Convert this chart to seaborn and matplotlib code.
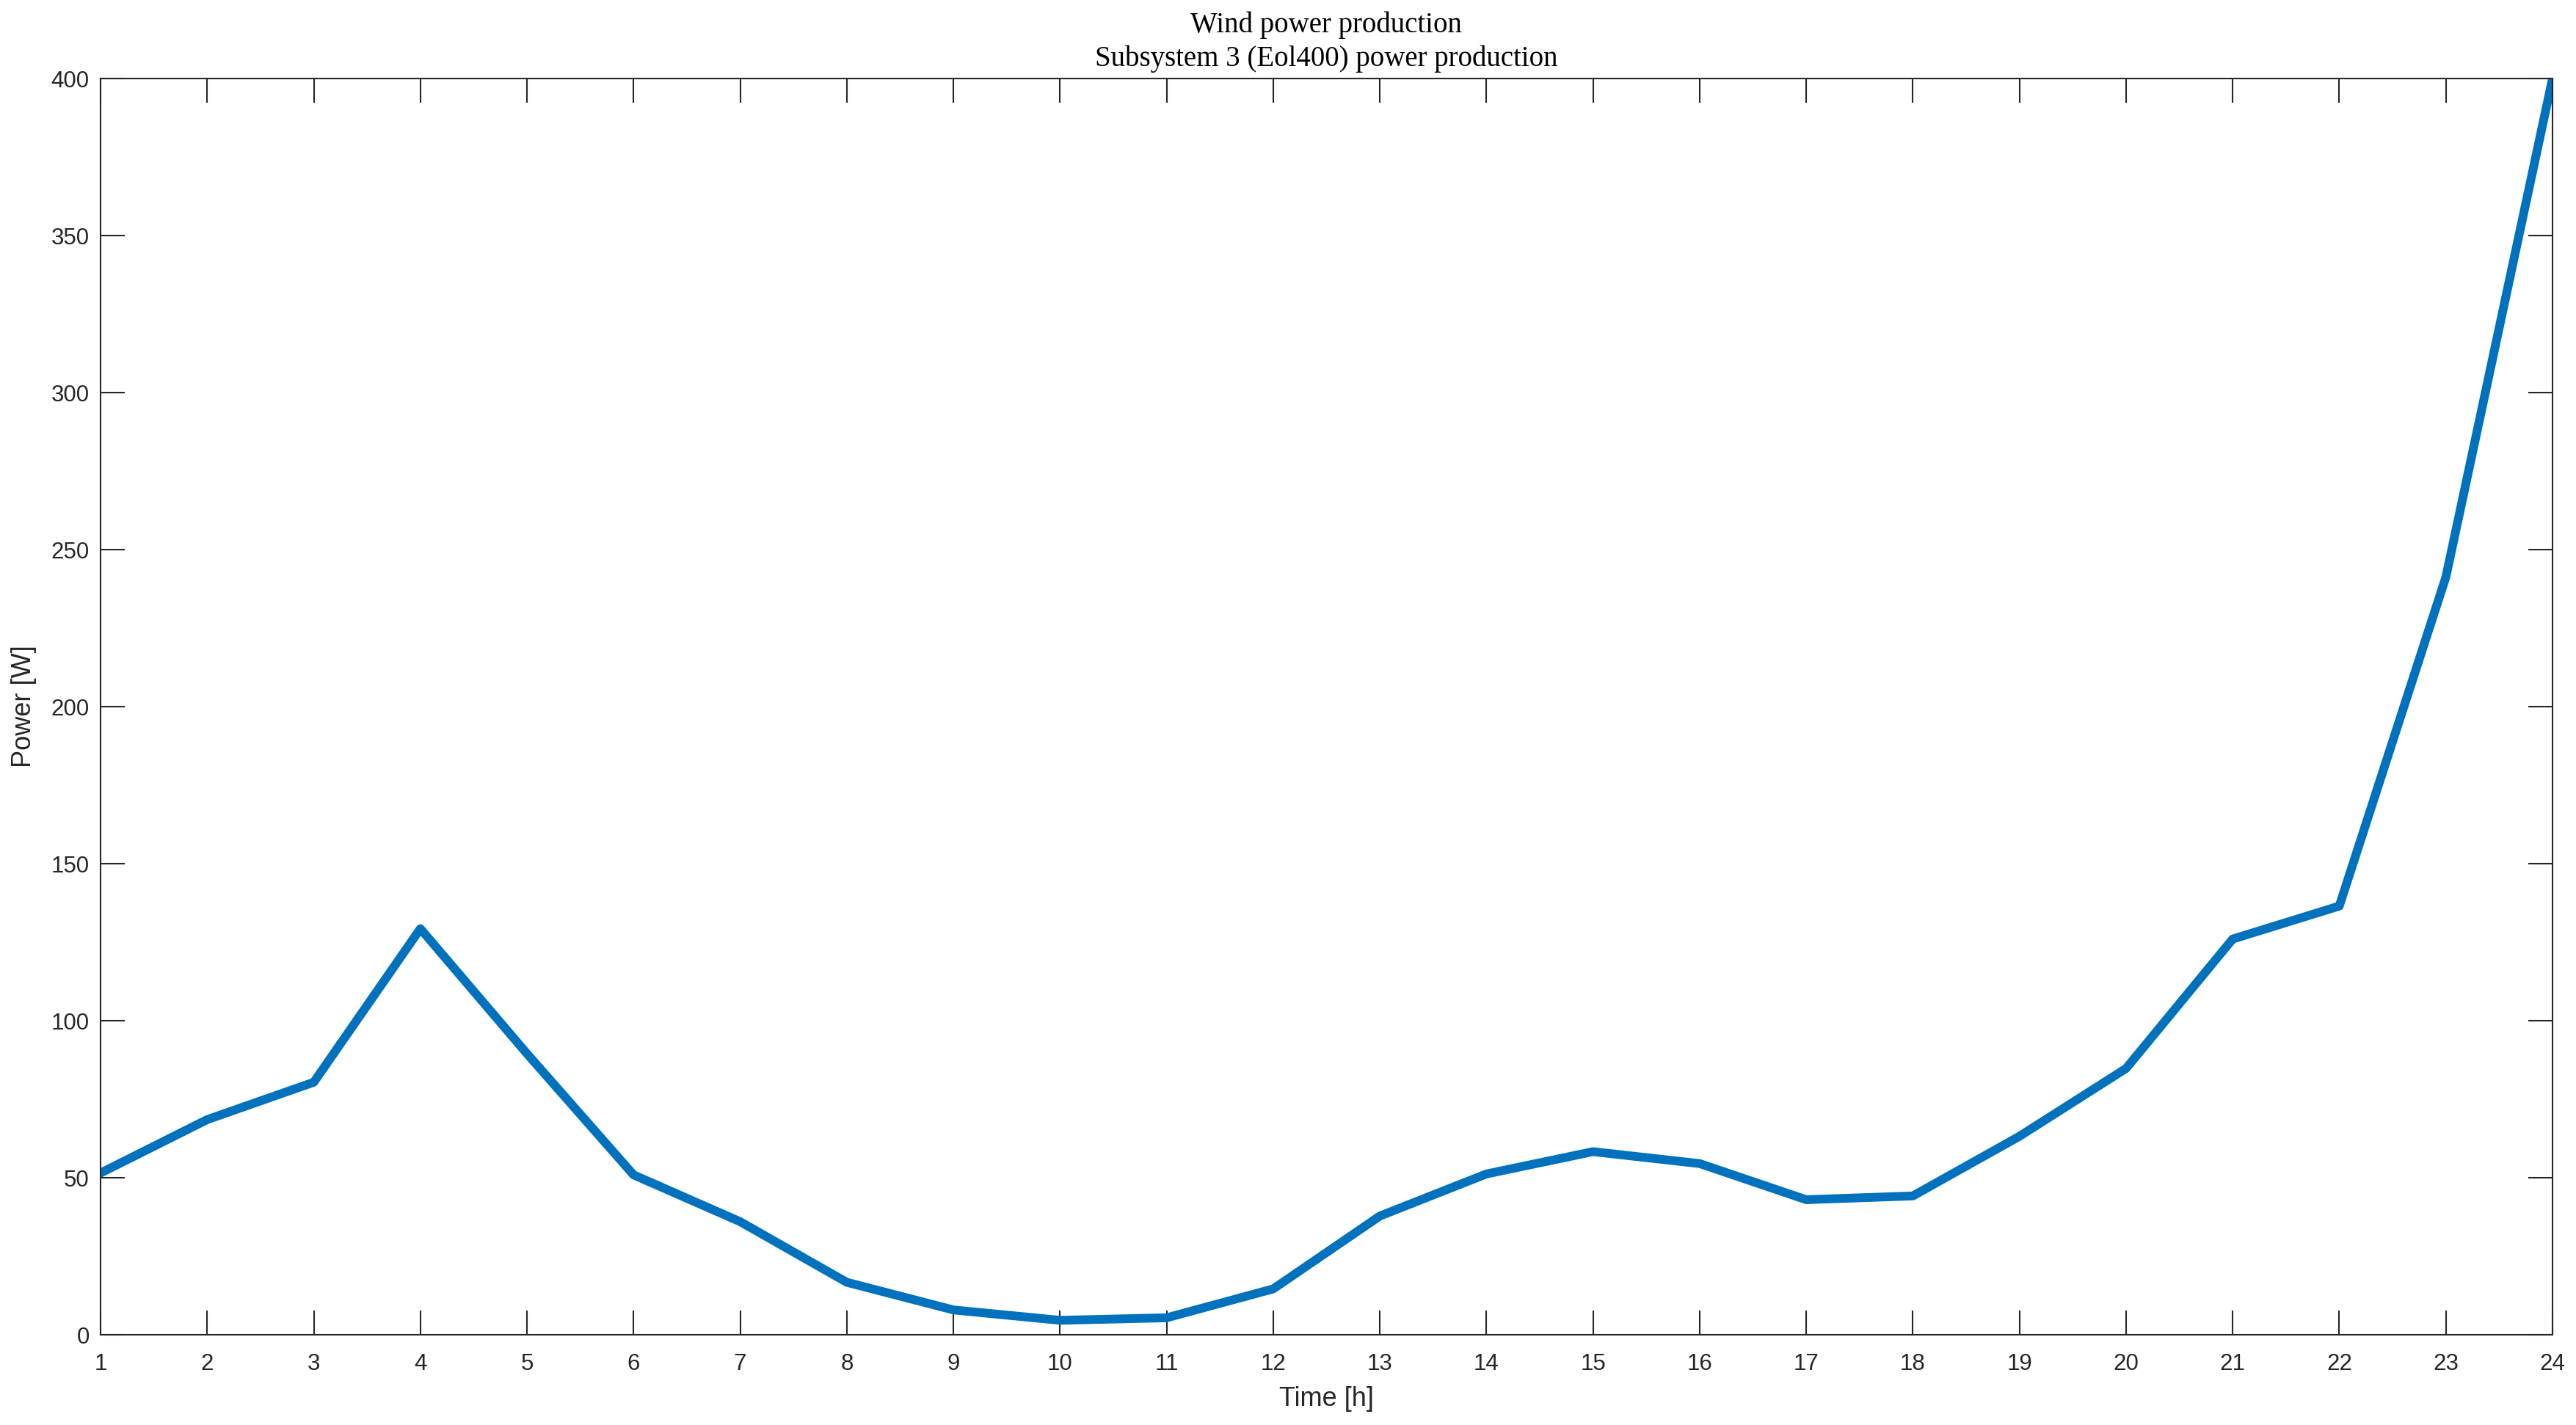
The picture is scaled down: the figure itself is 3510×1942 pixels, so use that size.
import numpy as np
import pandas as pd
import matplotlib
matplotlib.use("Agg")
import matplotlib.pyplot as plt
import seaborn as sns

# valeurs
hours = list(range(1, 25))
power = [51.5, 68.5, 80.4, 129.3, 89.5, 50.9, 36.0, 16.7, 7.9, 4.6, 5.4, 14.6,
         37.8, 51.2, 58.3, 54.5, 43.0, 44.2, 63.2, 84.8, 126.0, 136.5, 241.3, 400.0]
yticks = [0, 50, 100, 150, 200, 250, 300, 350, 400]

title_txt = "Wind power production\nSubsystem 3 (Eol400) power production"
xlabel_txt = "Time [h]"
ylabel_txt = "Power [W]"

df = pd.DataFrame({"hour": hours, "power": power})

sns.set_style("ticks")
plt.rcParams["font.family"] = ["Liberation Sans", "DejaVu Sans"]
grey = "#262626"

fig = plt.figure(figsize=(35.1, 19.42), dpi=100)
ax = fig.add_axes([137 / 3510, 1 - 1819 / 1942, (3478 - 137) / 3510, (1819 - 107) / 1942])

sns.lineplot(data=df, x="hour", y="power", color="#0072BD", linewidth=8.6, ax=ax)

ax.set_xlim(1, 24)
ax.set_ylim(0, 400)
ax.set_xticks(hours)
ax.set_yticks(yticks)

for sp in ax.spines.values():
    sp.set_visible(True)
    sp.set_linewidth(1.5)
    sp.set_color(grey)

ax.tick_params(axis="both", direction="in", length=24, width=1.5, color=grey,
               labelcolor=grey, labelsize=22.5, top=True, right=True)
ax.tick_params(axis="x", pad=18)
ax.tick_params(axis="y", pad=11)

ax.set_xlabel(xlabel_txt, fontsize=26, color=grey, labelpad=11)
ax.set_ylabel(ylabel_txt, fontsize=26, color=grey, labelpad=14)
ax.set_title(title_txt, fontsize=28, family=["Liberation Serif", "DejaVu Serif"],
             color="black", pad=12, linespacing=1.3)

fig.savefig("out.png", dpi=100, facecolor="white")
